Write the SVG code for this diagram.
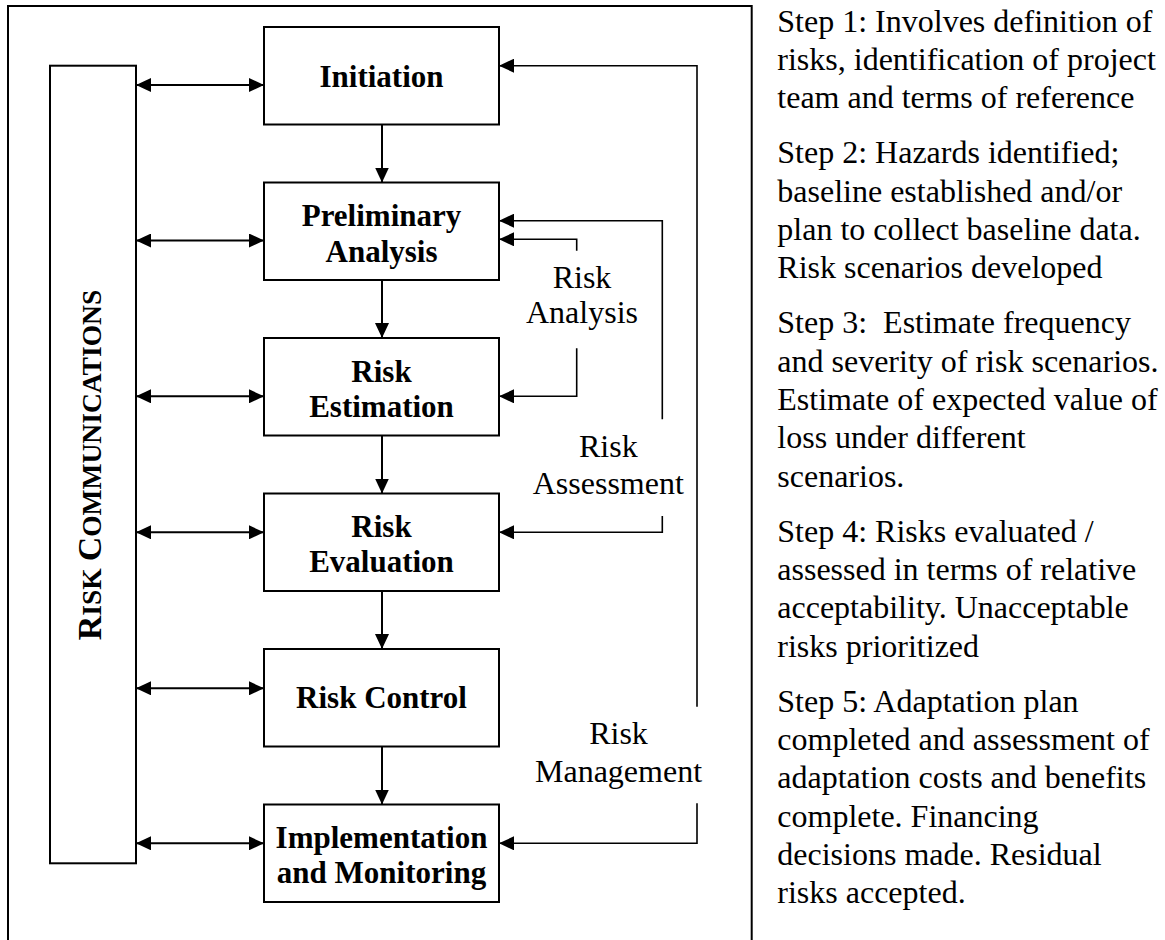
<svg xmlns="http://www.w3.org/2000/svg" width="1165" height="940" viewBox="0 0 1165 940">
<style>
.frame{fill:none;stroke:#000;stroke-width:2}
.box{fill:#fff;stroke:#000;stroke-width:2}
text{font-family:'Liberation Serif','DejaVu Serif',serif}
.bt{font-weight:bold;font-size:31px;text-anchor:middle;fill:#000}
.lbl{font-size:32px;text-anchor:middle;fill:#000}
.step{font-size:32px;fill:#000}
.arr{fill:none;stroke:#000;stroke-width:2}
.br{fill:none;stroke:#000;stroke-width:1.6}
</style>
<defs>
<marker id="ah" markerUnits="userSpaceOnUse" markerWidth="15" markerHeight="14" refX="15" refY="7" orient="auto-start-reverse">
<path d="M0,0 L15,7 L0,14 z" fill="#000"/>
</marker>
</defs>
<rect width="1165" height="940" fill="#fff"/>
<path class="frame" d="M8,950 V6 H751.7 V950"/>

<g id="communications">
<rect class="box" x="50" y="65.7" width="86" height="797.6"/>
<text class="bt" transform="translate(100.5,465) rotate(-90)" style="font-size:34px">R<tspan style="font-size:27.5px">ISK </tspan>C<tspan style="font-size:27.5px">OMMUNICATIONS</tspan></text>
</g>

<g id="initiation">
<rect class="box" x="264" y="27" width="235" height="97.5"/>
<text class="bt" x="381.5" y="87">Initiation</text>
</g>
<g id="preliminary">
<rect class="box" x="264" y="182.5" width="235" height="97.5"/>
<text class="bt" x="381.5" y="226">Preliminary</text>
<text class="bt" x="381.5" y="261.5">Analysis</text>
</g>
<g id="estimation">
<rect class="box" x="264" y="338" width="235" height="97.5"/>
<text class="bt" x="381.5" y="381.5">Risk</text>
<text class="bt" x="381.5" y="416.5">Estimation</text>
</g>
<g id="evaluation">
<rect class="box" x="264" y="493.5" width="235" height="97.5"/>
<text class="bt" x="381.5" y="536.5">Risk</text>
<text class="bt" x="381.5" y="571.5">Evaluation</text>
</g>
<g id="control">
<rect class="box" x="264" y="649" width="235" height="97.5"/>
<text class="bt" x="381.5" y="708.3">Risk Control</text>
</g>
<g id="implementation">
<rect class="box" x="264" y="804.5" width="235" height="97.5"/>
<text class="bt" x="381.5" y="848.3">Implementation</text>
<text class="bt" x="381.5" y="883.3">and Monitoring</text>
</g>

<g id="connectors">
<line class="arr" x1="382" y1="124.5" x2="382" y2="182.5" marker-end="url(#ah)"/>
<line class="arr" x1="382" y1="280" x2="382" y2="338" marker-end="url(#ah)"/>
<line class="arr" x1="382" y1="435.5" x2="382" y2="493.5" marker-end="url(#ah)"/>
<line class="arr" x1="382" y1="591" x2="382" y2="649" marker-end="url(#ah)"/>
<line class="arr" x1="382" y1="746.5" x2="382" y2="804.5" marker-end="url(#ah)"/>

<line class="arr" x1="136" y1="85" x2="264" y2="85" marker-start="url(#ah)" marker-end="url(#ah)"/>
<line class="arr" x1="136" y1="240.5" x2="264" y2="240.5" marker-start="url(#ah)" marker-end="url(#ah)"/>
<line class="arr" x1="136" y1="396.3" x2="264" y2="396.3" marker-start="url(#ah)" marker-end="url(#ah)"/>
<line class="arr" x1="136" y1="532.3" x2="264" y2="532.3" marker-start="url(#ah)" marker-end="url(#ah)"/>
<line class="arr" x1="136" y1="688.3" x2="264" y2="688.3" marker-start="url(#ah)" marker-end="url(#ah)"/>
<line class="arr" x1="136" y1="843.3" x2="264" y2="843.3" marker-start="url(#ah)" marker-end="url(#ah)"/>

<path class="br" d="M697,706.7 V65.7 H499" marker-end="url(#ah)"/>
<path class="br" d="M697,803.3 V843.3 H499" marker-end="url(#ah)"/>
<path class="br" d="M662.3,419.3 V220.7 H499" marker-end="url(#ah)"/>
<path class="br" d="M662.3,516 V532.3 H499" marker-end="url(#ah)"/>
<path class="br" d="M576.7,250.7 V239.3 H499" marker-end="url(#ah)"/>
<path class="br" d="M576.7,348.3 V396.3 H499" marker-end="url(#ah)"/>

<text class="lbl" x="582" y="288.3">Risk</text>
<text class="lbl" x="582" y="323.3">Analysis</text>
<text class="lbl" x="608.3" y="456.7">Risk</text>
<text class="lbl" x="608.3" y="494">Assessment</text>
<text class="lbl" x="618.5" y="744">Risk</text>
<text class="lbl" x="618.5" y="781.7">Management</text>
</g>

<g id="steps">
<text class="step" x="777.3" y="31.7">Step 1: Involves definition of</text>
<text class="step" x="777.3" y="70">risks, identification of project</text>
<text class="step" x="777.3" y="108.3">team and terms of reference</text>
<text class="step" x="777.3" y="163.3">Step 2: Hazards identified;</text>
<text class="step" x="777.3" y="201.7">baseline established and/or</text>
<text class="step" x="777.3" y="240">plan to collect baseline data.</text>
<text class="step" x="777.3" y="278.3">Risk scenarios developed</text>
<text class="step" x="777.3" y="333.3" xml:space="preserve">Step 3:  Estimate frequency</text>
<text class="step" x="777.3" y="371.7">and severity of risk scenarios.</text>
<text class="step" x="777.3" y="410">Estimate of expected value of</text>
<text class="step" x="777.3" y="448.3">loss under different</text>
<text class="step" x="777.3" y="486.7">scenarios.</text>
<text class="step" x="777.3" y="541.7">Step 4: Risks evaluated /</text>
<text class="step" x="777.3" y="580">assessed in terms of relative</text>
<text class="step" x="777.3" y="618.3">acceptability. Unacceptable</text>
<text class="step" x="777.3" y="656.7">risks prioritized</text>
<text class="step" x="777.3" y="711.7">Step 5: Adaptation plan</text>
<text class="step" x="777.3" y="750">completed and assessment of</text>
<text class="step" x="777.3" y="788.3">adaptation costs and benefits</text>
<text class="step" x="777.3" y="826.7">complete. Financing</text>
<text class="step" x="777.3" y="865">decisions made. Residual</text>
<text class="step" x="777.3" y="903.3">risks accepted.</text>
</g>
</svg>
